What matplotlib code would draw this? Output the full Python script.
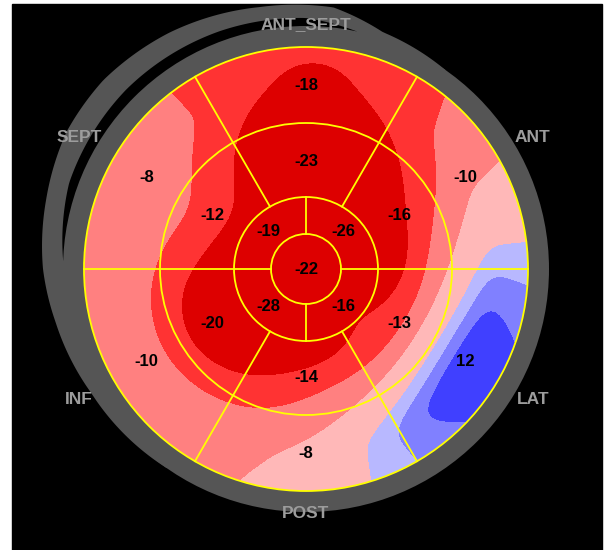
import numpy as np
import matplotlib.pyplot as plt
from matplotlib.patches import Circle, Rectangle, Polygon

# 17-segment strain values
# basal / mid rings go ANT_SEPT, ANT, LAT, POST, INF, SEPT (60 deg each)
seg_angles6 = [90, 30, -30, -90, -150, 150]
basal = [-18, -10, 12, -8, -10, -8]
mid = [-23, -16, -13, -14, -20, -12]
# apical ring has 4 segments
seg_angles4 = [45, -45, -135, 135]
apical = [-26, -16, -28, -19]
apex = -22

wall_names = ['ANT_SEPT', 'ANT', 'LAT', 'POST', 'INF', 'SEPT']

levels = [-100, -15.5, -12, -7.5, -1.5, 1.5, 4.5, 100]
fill_colors = ['#dd0000', '#ff3333', '#ff8080', '#ffb8b8',
               '#b8b8ff', '#8080ff', '#4040ff']

cx, cy, R = 306, 269, 222
ring_r = [35, 72, 146, R]
label_r = [53, 108, 184]

xs = np.arange(cx - 270, cx + 271)
ys = np.arange(cy - 270, cy + 271)
X, Y = np.meshgrid(xs, ys)
rr = np.hypot(X - cx, Y - cy)
th = np.degrees(np.arctan2(cy - Y, X - cx))

grid = np.arange(0, 360, 0.5)


def ring(angles, vals, sigma):
    # periodic linear profile round the ring, softened along the arc
    order = np.argsort(angles)
    prof = np.interp(grid, np.asarray(angles, float)[order],
                     np.asarray(vals, float)[order], period=360)
    k = np.arange(-360, 360.5, 0.5)
    g = np.exp(-k ** 2 / (2.0 * sigma ** 2))
    g /= g.sum()
    n = len(grid)
    prof = np.convolve(np.tile(prof, 3), g, mode='same')[n:2 * n]
    return np.interp(th, grid, prof, period=360)


node_r = [0] + label_r + [R]
layers = [np.full_like(th, apex, dtype=float),
          ring(seg_angles4, apical, 10),
          ring(seg_angles6, mid, 12),
          ring(seg_angles6, basal, 15),
          ring(seg_angles6, basal, 25)]

field = layers[-1].copy()
for i in range(len(node_r) - 1):
    r0, r1 = node_r[i], node_r[i + 1]
    t = (rr - r0) / (r1 - r0)
    m = (rr >= r0) & (rr < r1)
    field[m] = (layers[i] * (1 - t) + layers[i + 1] * t)[m]


def blur(z, s):
    n = int(3 * s)
    k = np.arange(-n, n + 1)
    g = np.exp(-k ** 2 / (2.0 * s * s))
    g /= g.sum()
    z = np.pad(z, n, mode='edge')
    z = np.apply_along_axis(lambda v: np.convolve(v, g, mode='valid'), 0, z)
    z = np.apply_along_axis(lambda v: np.convolve(v, g, mode='valid'), 1, z)
    return z


field = blur(field, 8)

fig = plt.figure(figsize=(6.06, 5.5), dpi=100)
fig.patch.set_facecolor('white')
ax = fig.add_axes([0, 0, 1, 1])
ax.set_xlim(0, 606)
ax.set_ylim(550, 0)
ax.axis('off')

ax.add_patch(Rectangle((12, 4), 590, 546, color='black', zorder=0))

# grey wall outline: swollen band over the upper-left with a thin black slit
gray = '#555555'
t = np.linspace(55, 235, 200)
bump = np.interp(t, [55, 72, 84, 100, 120, 137, 150, 165, 180, 192, 210, 235],
                 [0, 6, 20, 23, 30, 34, 33, 26, 20, 13, 5, 0])
tt = np.radians(np.concatenate([t, t[::-1]]))
rad = np.concatenate([243 + bump, np.full_like(t, 230)])
ax.add_patch(Polygon(np.column_stack([cx + rad * np.cos(tt), cy - rad * np.sin(tt)]),
                     closed=True, color=gray, lw=0, zorder=1))
t = np.linspace(78, 178, 120)
gap = np.interp(t, [78, 90, 110, 135, 160, 178], [0, 8, 10, 11, 9, 0])
tt = np.radians(np.concatenate([t, t[::-1]]))
rad = np.concatenate([243 + gap, np.full_like(t, 230)])
ax.add_patch(Polygon(np.column_stack([cx + rad * np.cos(tt), cy - rad * np.sin(tt)]),
                     closed=True, color='black', lw=0, zorder=1))
ax.add_patch(Circle((cx, cy), 243, color=gray, lw=0, zorder=1))

cs = ax.contourf(X, Y, field, levels=levels, colors=fill_colors, zorder=2)
cs.set_clip_path(Circle((cx, cy), R, transform=ax.transData))

yel = '#ffff00'
for r in ring_r:
    ax.add_patch(Circle((cx, cy), r, fill=False, ec=yel, lw=1.3, zorder=3))


def spoke(ang, r0, r1):
    a = np.radians(ang)
    ax.plot([cx + r0 * np.cos(a), cx + r1 * np.cos(a)],
            [cy - r0 * np.sin(a), cy - r1 * np.sin(a)],
            color=yel, lw=1.3, zorder=3)


for ang in [0, 180]:
    spoke(ang, ring_r[0], R)
for ang in [90, 270]:
    spoke(ang, ring_r[0], ring_r[1])
for ang in [60, 120, 240, 300]:
    spoke(ang, ring_r[1], R)

val_font = dict(fontsize=12, fontweight='bold', family='Liberation Sans',
                color='black', ha='center', va='center', zorder=4)


def put(ang, r, val):
    a = np.radians(ang)
    ax.text(cx + r * np.cos(a), cy - r * np.sin(a), str(val), **val_font)


for ang, v in zip(seg_angles6, basal):
    put(ang, label_r[2], v)
for ang, v in zip(seg_angles6, mid):
    put(ang, label_r[1], v)
for ang, v in zip(seg_angles4, apical):
    put(ang, label_r[0], v)
put(0, 0, apex)

for ang, name in zip(seg_angles6, wall_names):
    a = np.radians(ang)
    r = 244 if abs(np.sin(a)) > 0.99 else 262
    ax.text(cx + r * np.cos(a), cy - r * np.sin(a), name,
            fontsize=12.5, fontweight='bold', family='Liberation Sans',
            color='#9c9c9c', ha='center', va='center', zorder=4)

fig.savefig('out.png', dpi=100, facecolor='white')
